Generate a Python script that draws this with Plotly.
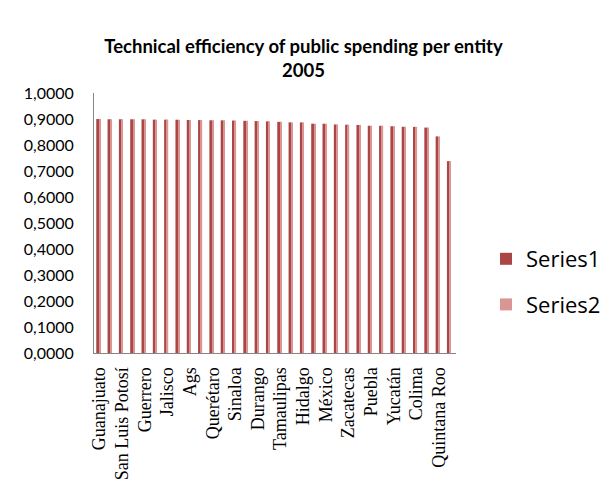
import plotly.graph_objects as go

entities = ["Guanajuato", "Baja California", "San Luis Potosí", "Baja California Sur",
            "Guerrero", "Campeche", "Jalisco", "Coahuila", "Ags", "Chiapas",
            "Querétaro", "Chihuahua", "Sinaloa", "Distrito Federal", "Durango", "Michoacán",
            "Tamaulipas", "Morelos", "Hidalgo", "Nayarit", "México", "Nuevo León",
            "Zacatecas", "Oaxaca", "Puebla", "Sonora", "Yucatán", "Tabasco",
            "Colima", "Tlaxcala", "Quintana Roo", "Veracruz"]

series1 = [0.8999, 0.8990, 0.8990, 0.8990, 0.8988, 0.8975, 0.8975, 0.8972,
           0.8960, 0.8958, 0.8950, 0.8948, 0.8940, 0.8930, 0.8920, 0.8910,
           0.8890, 0.8870, 0.8868, 0.8820, 0.8818, 0.8790, 0.8780, 0.8770,
           0.8740, 0.8738, 0.8720, 0.8700, 0.8698, 0.8670, 0.8330, 0.7380]
series2 = list(series1)

tick_labels = entities[::2]

fig = go.Figure()
fig.add_trace(go.Bar(x=entities, y=series1, name="Series1", offset=-0.3, width=0.25,
                     legendgroup="s1",
                     marker=dict(color="#AA4643", line=dict(width=0))))
fig.add_trace(go.Bar(x=entities, y=series2, name="Series2", offset=-0.05, width=0.11,
                     legendgroup="s2",
                     marker=dict(color="#D99694", line=dict(width=0))))

fig.update_layout(
    width=607, height=480,
    margin=dict(l=94, r=151, t=93, b=127, autoexpand=False),
    paper_bgcolor="white", plot_bgcolor="white",
    barmode="overlay",
    separators=",.",
    title=dict(text="<b>Technical efficiency of public spending per entity<br>2005</b>",
               x=0.5, xref="container", xanchor="center",
               y=1 - 53 / 480, yref="container", yanchor="top",
               font=dict(family="Lato", size=18.5, color="black")),
    showlegend=True,
    legend=dict(x=486 / 607, xref="container", xanchor="left",
                y=1 - 238 / 480, yref="container", yanchor="top",
                traceorder="grouped",
                font=dict(family="Open Sans", size=22, color="black"),
                bgcolor="rgba(0,0,0,0)", tracegroupgap=14),
)
fig.update_xaxes(type="category", categoryorder="array", categoryarray=entities,
                 range=[-0.5, len(entities) - 0.5], automargin=False,
                 tickmode="array", tickvals=tick_labels, ticktext=tick_labels,
                 tickangle=-90, showgrid=False, showline=True, linecolor="#868686",
                 linewidth=1, ticks="", ticklabelstandoff=6,
                 tickfont=dict(family="Liberation Serif", size=18, color="black"))
fig.update_yaxes(range=[0, 1], dtick=0.1, tick0=0, tickformat=".4f", automargin=False,
                 showgrid=False, showline=True, linecolor="#868686", linewidth=1,
                 ticks="", ticklabelstandoff=16, zeroline=False,
                 tickfont=dict(family="Lato", size=16, color="black"))

fig.write_html("out.html")
